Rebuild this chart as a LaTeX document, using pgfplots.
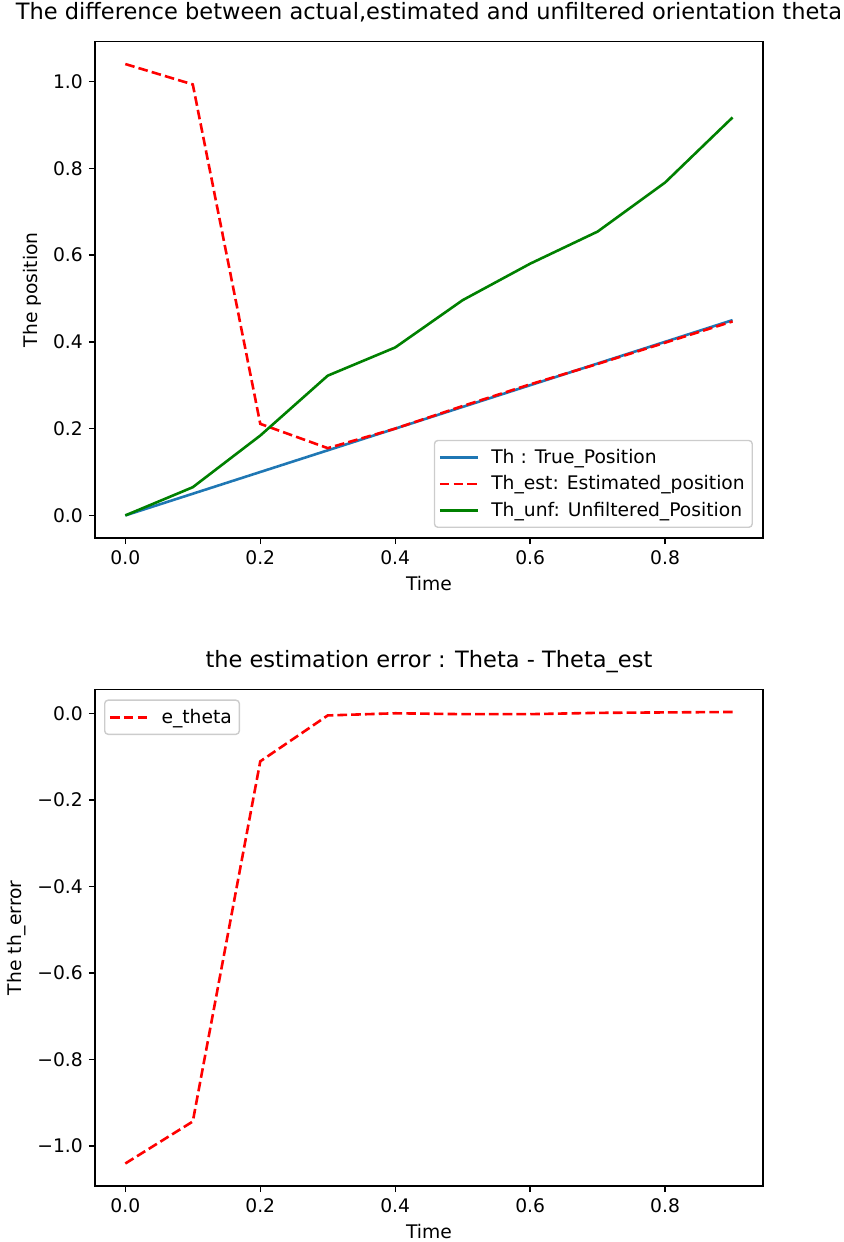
\documentclass[border=0pt]{standalone}
\usepackage{fontspec}
\setmainfont{DejaVu Sans}
\usepackage{pgfplots}
\pgfplotsset{compat=1.18}

\definecolor{mplblue}{HTML}{1F77B4}
\definecolor{mplred}{HTML}{FF0000}
\definecolor{mplgreen}{HTML}{008000}
\definecolor{legframe}{HTML}{CCCCCC}

\pgfplotsset{
  mplaxis/.style={
    scale only axis,
    width=384.1bp,
    height=285.5bp,
    axis line style={line width=0.8pt, black},
    tick align=outside,
    xtick pos=bottom, ytick pos=left,
    major tick length=3.5pt,
    tick style={line width=0.8pt, black},
    xmin=-0.045, xmax=0.945,
    xtick={0,0.2,0.4,0.6,0.8},
    xticklabels={0.0,0.2,0.4,0.6,0.8},
    font=\fontsize{10.8}{13}\selectfont,
    ticklabel style={font=\fontsize{10.8}{13}\selectfont},
    /pgf/number format/assume math mode=true,
    label style={font=\fontsize{10.8}{13}\selectfont},
    title style={font=\fontsize{13}{15.5}\selectfont, at={(0.5,1)}, anchor=base, yshift=6.5pt, inner sep=0pt},
    legend style={draw=legframe, line width=0.8pt, rounded corners=2pt, fill=white,
      fill opacity=0.8, text opacity=1, font=\fontsize{10.8}{13}\selectfont,
      inner xsep=2.3pt, inner ysep=3pt, row sep=1.5pt, column sep=5pt},
    legend cell align=left,
    legend image code/.code={\draw[##1] (0pt,0pt) -- (22pt,0pt);},
  },
  estline/.style={mplred, line width=1.5pt, dash pattern=on 5.55pt off 2.4pt},
}

\begin{document}
\begin{tikzpicture}
\useasboundingbox (0,0) rectangle (485.3bp,714.15bp);

% Upper panel: true, estimated and unfiltered orientation
\begin{axis}[mplaxis,
  at={(54.6bp,404.8bp)}, anchor=south west,
  ymin=-0.052, ymax=1.092,
  ytick={0,0.2,0.4,0.6,0.8,1.0},
  yticklabels={0.0,0.2,0.4,0.6,0.8,1.0},
  title={The difference between actual,estimated and unfiltered orientation theta},
  xlabel={Time}, ylabel={The position},
  legend style={at={(1,0)}, anchor=south east, xshift=-5.75bp, yshift=5.75bp},
]
\addplot[mplblue, line width=1.5pt] coordinates {
  (0.0,0.000) (0.1,0.050) (0.2,0.100) (0.3,0.150) (0.4,0.200)
  (0.5,0.250) (0.6,0.300) (0.7,0.350) (0.8,0.400) (0.9,0.450)};
\addlegendentry{Th : True\_Position}
\addplot[estline] coordinates {
  (0.0,1.040) (0.1,0.993) (0.2,0.211) (0.3,0.155) (0.4,0.200)
  (0.5,0.252) (0.6,0.302) (0.7,0.349) (0.8,0.398) (0.9,0.447)};
\addlegendentry{Th\_est: Estimated\_position}
\addplot[mplgreen, line width=1.5pt] coordinates {
  (0.0,0.000) (0.1,0.065) (0.2,0.184) (0.3,0.322) (0.4,0.387)
  (0.5,0.496) (0.6,0.580) (0.7,0.654) (0.8,0.767) (0.9,0.917)};
\addlegendentry{Th\_unf: Unfiltered\_Position}
\end{axis}

% Lower panel: estimation error
\begin{axis}[mplaxis,
  at={(54.6bp,32.2bp)}, anchor=south west,
  ymin=-1.092, ymax=0.055,
  ytick={-1.0,-0.8,-0.6,-0.4,-0.2,0.0},
  yticklabels={−1.0,−0.8,−0.6,−0.4,−0.2,0.0},
  title={the estimation error : Theta - Theta\_est},
  xlabel={Time}, ylabel={The th\_error},
  legend style={at={(0,1)}, anchor=north west, xshift=5.2bp, yshift=-5.75bp},
]
\addplot[estline] coordinates {
  (0.0,-1.040) (0.1,-0.943) (0.2,-0.111) (0.3,-0.005) (0.4,0.000)
  (0.5,-0.002) (0.6,-0.002) (0.7,0.001) (0.8,0.002) (0.9,0.003)};
\addlegendentry{e\_theta}
\end{axis}
\end{tikzpicture}
\end{document}
